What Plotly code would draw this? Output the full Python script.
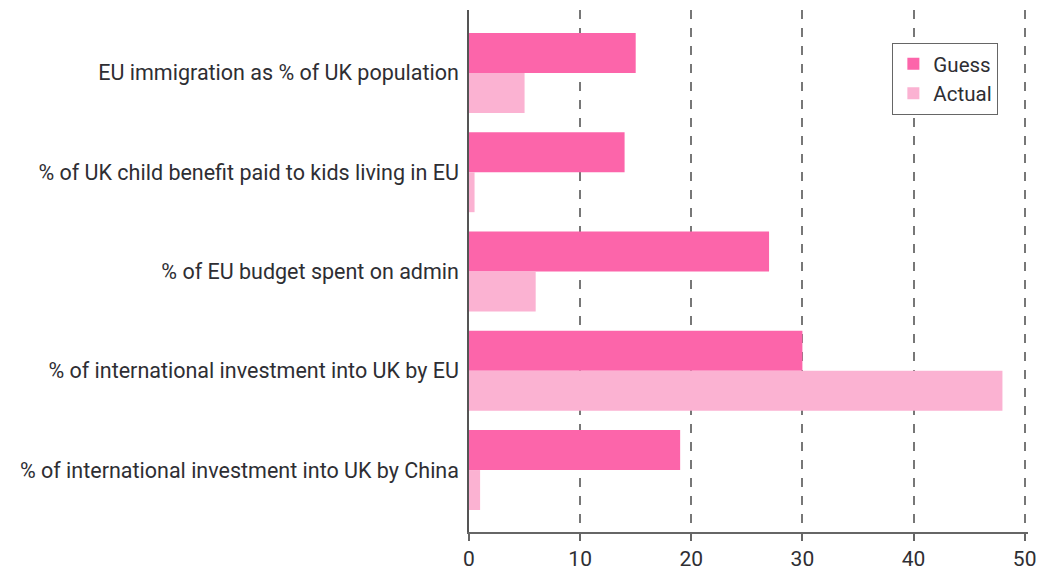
import plotly.graph_objects as go

categories = [
    "EU immigration as % of UK population",
    "% of UK child benefit paid to kids living in EU",
    "% of EU budget spent on admin",
    "% of international investment into UK by EU",
    "% of international investment into UK by China",
]
guess = [15, 14, 27, 30, 19]
actual = [5, 0.5, 6, 48, 1]

guess_color = "#fc65aa"
actual_color = "#fbb2d2"
text_color = "#2e2e33"
font_family = "Roboto, 'Open Sans', sans-serif"

fig = go.Figure()
fig.add_trace(go.Bar(
    y=categories, x=guess, name="Guess", orientation="h",
    marker=dict(color=guess_color, line=dict(width=0)),
))
fig.add_trace(go.Bar(
    y=categories, x=actual, name="Actual", orientation="h",
    marker=dict(color=actual_color, line=dict(width=0)),
))

fig.update_layout(
    width=1040, height=572,
    margin=dict(l=469, r=12, t=10, b=40),
    paper_bgcolor="white", plot_bgcolor="white",
    barmode="group", bargap=0.195, bargroupgap=0,
    font=dict(family=font_family, color=text_color, size=21),
    showlegend=True,
    legend=dict(
        x=0.947, y=0.937, xanchor="right", yanchor="top",
        bgcolor="white", bordercolor="#666", borderwidth=1,
        font=dict(size=20.5, color=text_color),
        itemsizing="constant", tracegroupgap=0,
    ),
    xaxis=dict(
        range=[0, 50.3], tickvals=[0, 10, 20, 30, 40, 50],
        automargin=False,
        showgrid=True, gridcolor="#777", griddash="dash", gridwidth=1.5,
        zeroline=False, showline=True, linecolor="#666", linewidth=2,
        ticks="outside", ticklen=7, tickcolor="#666", tickwidth=1.5,
        tickfont=dict(size=21, color=text_color),
    ),
    yaxis=dict(
        type="category", categoryorder="array", categoryarray=categories,
        range=[4.624, -0.634], automargin=False,
        showgrid=False, zeroline=False,
        showline=True, linecolor="#555", linewidth=1.5,
        ticks="", ticklabelstandoff=4,
        tickfont=dict(size=21.5, color=text_color),
    ),
)

fig.write_html("out.html")
